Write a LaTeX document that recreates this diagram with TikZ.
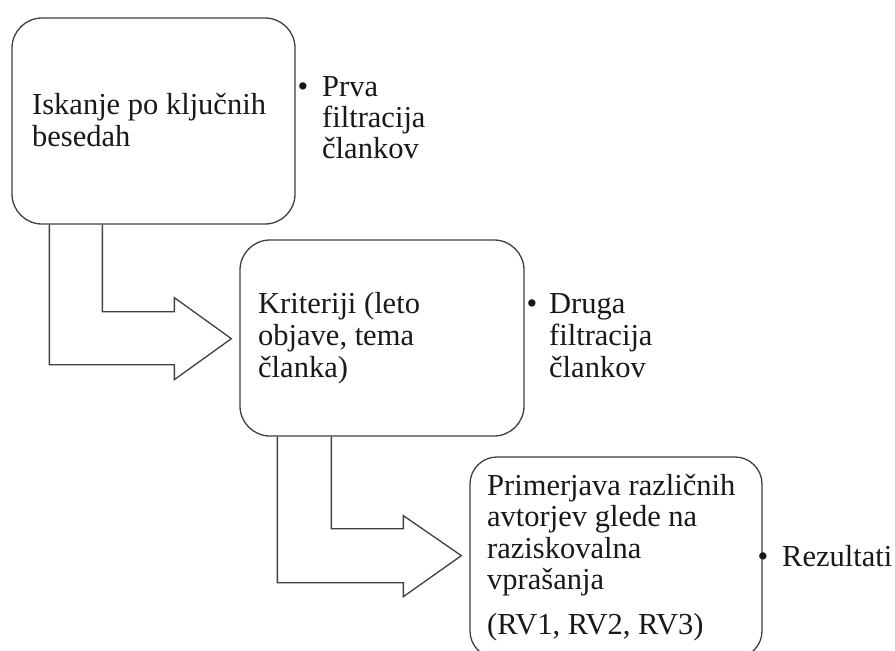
\documentclass[tikz,border=0pt]{standalone}
\usepackage{fontspec}
\setmainfont{Liberation Serif}
\begin{document}
\begin{tikzpicture}[x=1pt,y=-1pt,
  box/.style={draw=black!75, line width=1.3pt, rounded corners=30pt, inner sep=0pt, fill=white},
  txt/.style={anchor=base west, align=left, inner sep=0pt, text=black!90, font=\fontsize{30.5}{32}\selectfont},
  bent/.style={draw=black!75, line width=1.3pt, line join=miter}
]
\useasboundingbox (0,0) rectangle (895,651);
\clip (0,0) rectangle (895,651);
\fill[white] (0,0) rectangle (895,651);

% boxes
\node[box, minimum width=283pt, minimum height=206pt] (b1) at (153.5,121) {};
\node[box, minimum width=284pt, minimum height=196pt] (b2) at (382,338) {};
\node[box, rounded corners=27pt, minimum width=292pt, minimum height=201pt] (b3) at (616,557.5) {};

% bent arrows
\draw[bent] ([xshift=38pt]b1.south west) -- ++(0,140) -- ++(125,0) -- ++(0,15)
  -- ++(57,-41) -- ++(-57,-41) -- ++(0,14) -- ++(-72,0) -- ([xshift=91pt]b1.south west);
\draw[bent] ([xshift=38pt]b2.south west) -- ++(0,146) -- ++(126,0) -- ++(0,14)
  -- ++(58,-41) -- ++(-58,-40) -- ++(0,13) -- ++(-72,0) -- ([xshift=92pt]b2.south west);

% texts in boxes (anchored at the baseline of the last line)
\node[txt] (t1) at (32,146) {Iskanje po ključnih\\besedah};
\node[txt] (t2) at (258,377) {Kriteriji (leto\\objave, tema\\članka)};
\node[txt, font=\fontsize{30.5}{31.5}\selectfont] (t3) at (487,634) {Primerjava različnih\\avtorjev glede na\\raziskovalna\\vprašanja\\[13pt](RV1, RV2, RV3)};

% bullet notes
\node[txt, font=\fontsize{30.5}{31}\selectfont] (n1) at (322,158) {\llap{•\hspace{14pt}}Prva\\filtracija\\člankov};
\node[txt] (n2) at (549,377) {\llap{•\hspace{12pt}}Druga\\filtracija\\člankov};
\node[txt] (n3) at (782,566) {\llap{•\hspace{14pt}}Rezultati};
\end{tikzpicture}
\end{document}
